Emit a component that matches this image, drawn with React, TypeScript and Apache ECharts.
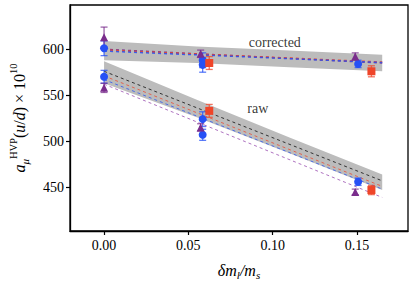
import React, { useEffect, useRef } from "react";
import * as echarts from "echarts";

// ---- data ----
const xTicks = [0, 0.05, 0.1, 0.15];
const yTicks = [450, 500, 550, 600];

// blue circles: x, value, error
const blueX = [0, 0, 0.0585, 0.0585, 0.0585, 0.0585, 0.1507, 0.1507];
const blueY = [601, 570, 588, 583, 524, 507, 584, 456];
const blueE = [8, 7, 8, 8, 8, 6, 4, 4];

// red squares
const redX = [0.0624, 0.0624, 0.1586, 0.1586];
const redY = [585, 533, 576, 447];
const redE = [7, 7, 6, 5];

// purple triangles
const purpleX = [0, 0, 0.0573, 0.0573, 0.149, 0.149];
const purpleY = [613, 558, 595, 515, 592, 445];
const purpleE = [11, 5, 4, 4, 4, 3];

// fit bands
const bandX = [0, 0.055, 0.11, 0.165];
const corrHigh = [609, 603, 598.5, 594];
const corrLow = [588, 585, 580.5, 576];
const rawHigh = [587, 545, 504, 464];
const rawLow = [563, 526, 487, 447];

// fit lines (start, end)
const lineX = [0, 0.165];
const rawBlack = [576, 457];
const rawRed = [571, 451];
const rawBlue = [567, 448];
const rawPurple = [562, 439];
const corrRed = [599, 586];
const corrBlue = [598, 585.5];
const corrPurple = [600, 585];

const annotations = [
  { x: 0.1013, y: 607, text: "corrected" },
  { x: 0.0912, y: 536, text: "raw" },
];

const BLUE = "#2650f5";
const RED = "#ef4529";
const PURPLE = "#7a2d8c";
const FONT = "Liberation Serif";

function zip3(a: number[], b: number[], c: number[]) {
  return a.map((v, i) => [v, b[i], c[i]]);
}

function errSeries(name: string, data: number[][], color: string) {
  return {
    type: "custom",
    name,
    z: 4,
    data,
    renderItem: (params: any, api: any) => {
      const x = api.value(0);
      const y = api.value(1);
      const e = api.value(2);
      const t = api.coord([x, y + e]);
      const b = api.coord([x, y - e]);
      const hw = 3.5;
      const st = { stroke: color, lineWidth: 1.3, opacity: 0.75 };
      return {
        type: "group",
        children: [
          { type: "line", shape: { x1: t[0], y1: t[1], x2: b[0], y2: b[1] }, style: st },
          { type: "line", shape: { x1: t[0] - hw, y1: t[1], x2: t[0] + hw, y2: t[1] }, style: st },
          { type: "line", shape: { x1: b[0] - hw, y1: b[1], x2: b[0] + hw, y2: b[1] }, style: st },
        ],
      };
    },
  };
}

function bandSeries(high: number[], low: number[]) {
  return {
    type: "custom",
    z: 1,
    silent: true,
    data: [[bandX[0], low[0]]],
    renderItem: (params: any, api: any) => {
      const pts: number[][] = [];
      bandX.forEach((x, i) => pts.push(api.coord([x, high[i]])));
      for (let i = bandX.length - 1; i >= 0; i--) pts.push(api.coord([bandX[i], low[i]]));
      return {
        type: "polygon",
        shape: { points: pts },
        style: { fill: "#bcbcbc", opacity: 1 },
      };
    },
  };
}

function lineSeries(vals: number[], color: string, width = 1, opacity = 1, dash: number[] = [3, 3]) {
  return {
    type: "line",
    z: 2,
    symbol: "none",
    silent: true,
    data: lineX.map((x, i) => [x, vals[i]]),
    lineStyle: { color, width, type: dash, opacity },
  };
}

function scatterSeries(xs: number[], ys: number[], color: string, symbol: string, size: number) {
  return {
    type: "scatter",
    z: 5,
    symbol,
    symbolSize: size,
    data: xs.map((x, i) => [x, ys[i]]),
    itemStyle: { color, opacity: 1 },
  };
}

export default function App() {
  const ref = useRef<HTMLDivElement>(null);
  useEffect(() => {
    if (!ref.current) return;
    const chart = echarts.init(ref.current, undefined, { renderer: "svg" });
    const option: any = {
      animation: false,
      backgroundColor: "#ffffff",
      grid: {
        left: 70,
        right: 7,
        top: 5,
        bottom: 53,
        show: true,
        borderColor: "#000",
        borderWidth: 1.3,
        backgroundColor: "transparent",
      },
      xAxis: {
        type: "value",
        min: -0.0202,
        max: 0.1803,
        splitLine: { show: false },
        axisLine: { show: true, onZero: false, lineStyle: { color: "#000", width: 1.3 } },
        axisTick: { show: true, inside: false, length: 4, lineStyle: { color: "#000", width: 1.2 }, customValues: xTicks },
        axisLabel: {
          customValues: xTicks,
          formatter: (v: number) => v.toFixed(2),
          color: "#000",
          fontFamily: FONT,
          fontSize: 14,
          margin: 7,
        },
        name: "{i|δm}{s|l}{i|/m}{s|s}",
        nameLocation: "middle",
        nameGap: 29,
        nameTextStyle: {
          rich: {
            i: { fontFamily: FONT, fontStyle: "italic", fontSize: 16, color: "#000", lineHeight: 20 },
            s: { fontFamily: FONT, fontStyle: "italic", fontSize: 11, color: "#000", verticalAlign: "bottom", lineHeight: 13 },
          },
        },
      },
      yAxis: {
        type: "value",
        min: 402.5,
        max: 648,
        splitLine: { show: false },
        axisLine: { show: true, onZero: false, lineStyle: { color: "#000", width: 1.3 } },
        axisTick: { show: true, inside: false, length: 4, lineStyle: { color: "#000", width: 1.2 }, customValues: yTicks },
        axisLabel: {
          customValues: yTicks,
          color: "#000",
          fontFamily: FONT,
          fontSize: 14,
          margin: 6,
        },
        name: "{i|a}{sub|μ}{sup|HVP}{n|(}{i|u}{n|/}{i|d}{n|) × 10}{sup|10}",
        nameLocation: "middle",
        nameRotate: 90,
        nameGap: 40,
        nameTextStyle: {
          rich: {
            i: { fontFamily: FONT, fontStyle: "italic", fontSize: 16, color: "#000", lineHeight: 22 },
            n: { fontFamily: FONT, fontSize: 16, color: "#000", lineHeight: 22 },
            sub: { fontFamily: FONT, fontStyle: "italic", fontSize: 11, color: "#000", verticalAlign: "bottom", lineHeight: 13 },
            sup: { fontFamily: FONT, fontSize: 10.5, color: "#000", verticalAlign: "top", lineHeight: 12 },
          },
        },
      },
      series: [
        bandSeries(corrHigh, corrLow),
        bandSeries(rawHigh, rawLow),
        lineSeries(rawBlack, "#222", 1, 0.9, [3, 3]),
        lineSeries(rawRed, RED, 1, 0.75, [3, 3]),
        lineSeries(rawBlue, BLUE, 1, 0.75, [3, 3]),
        lineSeries(rawPurple, "#9a4fb0", 1, 0.8, [3, 3]),
        lineSeries(corrPurple, PURPLE, 1.5, 0.9, [3, 3]),
        lineSeries(corrRed, RED, 1.5, 0.9, [3, 3]),
        lineSeries(corrBlue, BLUE, 1.5, 0.85, [3, 3]),
        errSeries("blue", zip3(blueX, blueY, blueE), BLUE),
        errSeries("red", zip3(redX, redY, redE), RED),
        errSeries("purple", zip3(purpleX, purpleY, purpleE), PURPLE),
        scatterSeries(blueX, blueY, BLUE, "circle", 8),
        scatterSeries(redX, redY, RED, "rect", 8),
        scatterSeries(purpleX, purpleY, PURPLE, "triangle", 8),
        {
          type: "scatter",
          z: 6,
          symbolSize: 0,
          silent: true,
          data: annotations.map((a) => ({ value: [a.x, a.y], name: a.text })),
          label: {
            show: true,
            position: "inside",
            formatter: (p: any) => p.name,
            fontFamily: FONT,
            fontSize: 14,
            color: "#000",
          },
        },
      ],
    };
    chart.setOption(option);
    return () => chart.dispose();
  }, []);
  return (
    <div
      ref={ref}
      style={{ position: "fixed", left: 0, top: 0, width: 415, height: 285, background: "#fff" }}
    />
  );
}
